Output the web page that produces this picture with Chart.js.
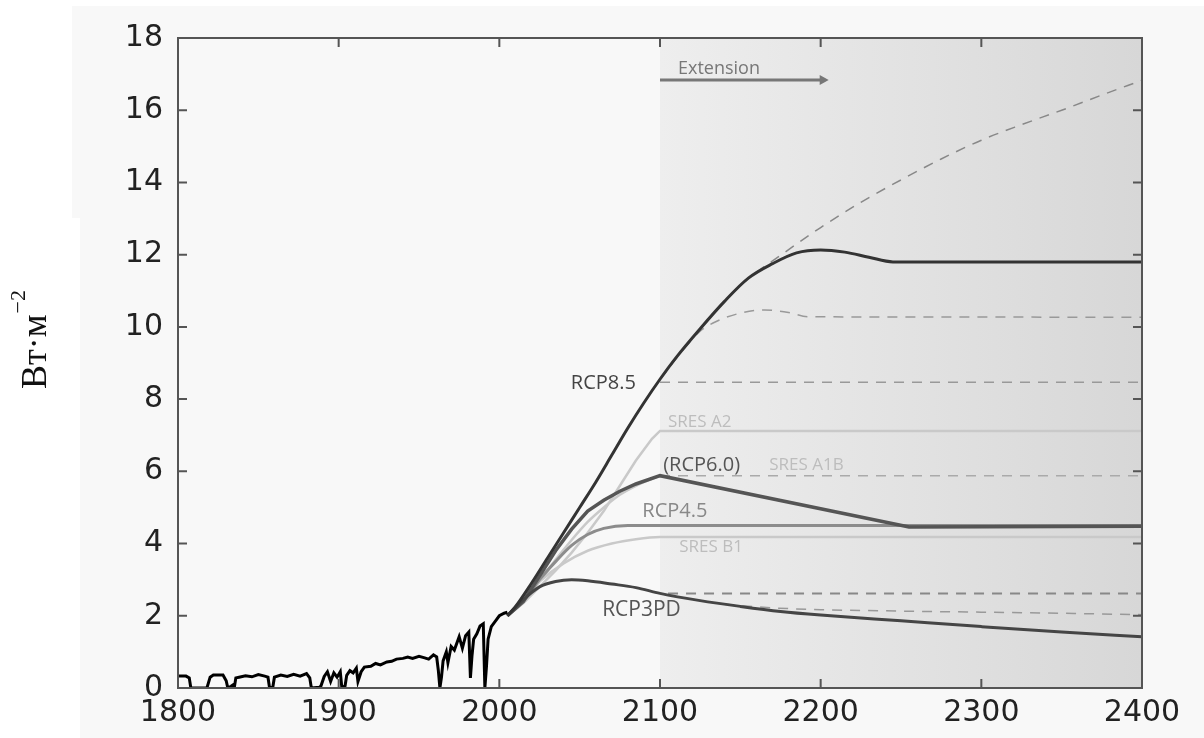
<!DOCTYPE html>
<html>
<head>
<meta charset="utf-8">
<script src="https://cdn.jsdelivr.net/npm/chart.js@4.4.1/dist/chart.umd.min.js"></script>
<style>
    html, body { margin: 0; padding: 0; background: #fff; }
    #wrap { width: 1204px; height: 738px; position: relative; }
</style>
</head>
<body>
<div id="wrap"><canvas id="forcing"></canvas></div>
<script>
// historical forcing, 1800-2005 (W/m2)
const histYears = [1800, 1805, 1807, 1808, 1818, 1820, 1822, 1828, 1830, 1831, 1833, 1834, 1835, 1836, 1838, 1842, 1846, 1850, 1854, 1856,
    1857, 1859, 1860, 1864, 1868, 1872, 1876, 1880, 1882, 1883, 1888, 1889, 1891, 1893, 1895, 1897, 1899, 1901, 1902, 1904,
    1905, 1907, 1909, 1911, 1912, 1914, 1916, 1920, 1923, 1926, 1930, 1933, 1936, 1940, 1943, 1946, 1950, 1953, 1956, 1959,
    1961, 1962, 1963, 1964, 1965, 1967, 1968, 1970, 1972, 1975, 1977, 1979, 1981, 1982, 1983, 1984, 1986, 1988, 1990, 1991,
    1992, 1993, 1995, 1998, 2000, 2003, 2005];
const histValues = [0.33, 0.33, 0.28, 0.0, 0.0, 0.3, 0.36, 0.36, 0.2, 0.0, 0.05, 0.08, 0.0, 0.28, 0.3, 0.34, 0.31, 0.37, 0.33, 0.3,
    0.0, 0.02, 0.3, 0.36, 0.32, 0.38, 0.33, 0.4, 0.28, 0.0, 0.02, 0.06, 0.32, 0.45, 0.18, 0.42, 0.3, 0.45, 0.0, 0.06,
    0.35, 0.48, 0.42, 0.55, 0.18, 0.45, 0.58, 0.6, 0.68, 0.64, 0.72, 0.74, 0.8, 0.82, 0.86, 0.82, 0.88, 0.84, 0.8, 0.92,
    0.86, 0.5, 0.0, 0.3, 0.75, 1.0, 0.7, 1.15, 1.05, 1.42, 1.1, 1.45, 1.55, 0.28, 0.9, 1.35, 1.5, 1.72, 1.78, 0.0,
    0.6, 1.35, 1.7, 1.88, 2.0, 2.07, 2.1];

// RCP scenarios
const rcp85Years = [2005, 2010, 2020, 2030, 2040, 2050, 2060, 2070, 2080, 2090, 2100, 2110, 2125, 2140, 2155, 2170, 2185, 2200, 2215, 2230, 2245, 2400];
const rcp85Values = [2.0, 2.25, 2.9, 3.6, 4.3, 5.0, 5.7, 6.45, 7.2, 7.9, 8.55, 9.15, 9.95, 10.7, 11.35, 11.75, 12.05, 12.13, 12.07, 11.93, 11.8, 11.8];

const rcp60Years = [2005, 2015, 2025, 2035, 2045, 2055, 2065, 2075, 2085, 2100, 2255, 2400];
const rcp60Values = [2.0, 2.4, 3.1, 3.8, 4.4, 4.9, 5.2, 5.45, 5.65, 5.88, 4.46, 4.48];

const rcp45Years = [2005, 2015, 2025, 2035, 2045, 2055, 2065, 2080, 2400];
const rcp45Values = [2.0, 2.4, 3.0, 3.5, 3.95, 4.25, 4.42, 4.5, 4.5];

const rcp3pdYears = [2005, 2015, 2025, 2035, 2045, 2055, 2070, 2085, 2100, 2125, 2150, 2175, 2200, 2250, 2300, 2350, 2400];
const rcp3pdValues = [2.0, 2.45, 2.8, 2.95, 3.0, 2.97, 2.88, 2.78, 2.62, 2.42, 2.26, 2.12, 2.02, 1.86, 1.7, 1.55, 1.42];

// SRES scenarios
const sresA2Years = [2005, 2015, 2025, 2035, 2045, 2055, 2065, 2075, 2085, 2095, 2100, 2400];
const sresA2Values = [2.0, 2.35, 2.8, 3.25, 3.75, 4.3, 4.9, 5.6, 6.3, 6.9, 7.12, 7.12];

const sresA1bYears = [2005, 2015, 2025, 2035, 2045, 2055, 2065, 2075, 2085, 2100];
const sresA1bValues = [2.0, 2.4, 2.95, 3.55, 4.1, 4.6, 5.0, 5.35, 5.6, 5.88];

const sresB1Years = [2005, 2015, 2025, 2040, 2055, 2070, 2085, 2100, 2400];
const sresB1Values = [2.0, 2.5, 2.95, 3.45, 3.8, 4.0, 4.12, 4.18, 4.18];

// dashed extensions
const extHighYears = [2100, 2125, 2150, 2175, 2200, 2225, 2250, 2275, 2300, 2325, 2350, 2375, 2400];
const extHighValues = [8.55, 9.95, 11.15, 11.98, 12.75, 13.45, 14.07, 14.65, 15.17, 15.6, 16.0, 16.42, 16.83];

const extMidYears = [2115, 2125, 2135, 2150, 2165, 2180, 2192, 2400];
const extMidValues = [9.4, 9.88, 10.15, 10.38, 10.47, 10.4, 10.28, 10.27];

const ext85Years = [2100, 2400];
const ext85Values = [8.47, 8.47];

const extA1bYears = [2100, 2400];
const extA1bValues = [5.88, 5.88];

const ext26Years = [2105, 2400];
const ext26Values = [2.62, 2.62];

const extLowYears = [2140, 2170, 2200, 2250, 2300, 2350, 2400];
const extLowValues = [2.32, 2.22, 2.17, 2.13, 2.1, 2.07, 2.03];

const xTicks = [1800, 1900, 2000, 2100, 2200, 2300, 2400];
const yTicks = [0, 2, 4, 6, 8, 10, 12, 14, 16, 18];

const extensionStart = 2100;
const extensionArrowEnd = 2205;

const yTitle = "Вт·м";
const yTitleSup = "−2";

// text labels placed next to the curves
const curveLabels = [
    { text: "RCP8.5", x: 2085, y: 8.45, color: "#444", size: 20, align: "right" },
    { text: "SRES A2", x: 2105, y: 7.37, color: "#bdbdbd", size: 17, align: "left" },
    { text: "(RCP6.0)", x: 2102, y: 6.18, color: "#555", size: 20, align: "left" },
    { text: "SRES A1B", x: 2168, y: 6.18, color: "#bdbdbd", size: 17, align: "left" },
    { text: "RCP4.5", x: 2089, y: 4.88, color: "#888", size: 20, align: "left" },
    { text: "SRES B1", x: 2112, y: 3.9, color: "#bdbdbd", size: 17, align: "left" },
    { text: "RCP3PD", x: 2064, y: 2.16, color: "#555", size: 21, align: "left" },
];

function toPoints(xs, ys) {
    return xs.map(function (x, i) {
        return { x: x, y: ys[i] };
    });
}

function solid(label, xs, ys, color, width, smooth) {
    return {
        label: label,
        data: toPoints(xs, ys),
        borderColor: color,
        borderWidth: width,
        pointRadius: 0,
        fill: false,
        cubicInterpolationMode: smooth ? "monotone" : "default",
        tension: 0,
    };
}

function dashed(label, xs, ys, color, width) {
    var ds = solid(label, xs, ys, color, width, true);
    ds.borderDash = [10, 8];
    return ds;
}

const backdrop = {
    id: "backdrop",
    beforeDraw(chart) {
        const { ctx, chartArea, scales } = chart;
        ctx.save();
        ctx.fillStyle = "#fff";
        ctx.fillRect(0, 0, chart.width, chart.height);
        ctx.fillStyle = "#f8f8f8";
        ctx.fillRect(72, 6, chart.width - 72, chart.height - 6);
        ctx.fillStyle = "#fff";
        ctx.fillRect(72, 218, 8, chart.height - 218);

        // shaded extension period
        const x0 = scales.x.getPixelForValue(extensionStart);
        const g = ctx.createLinearGradient(x0, 0, chartArea.right, 0);
        g.addColorStop(0, "#eeeeee");
        g.addColorStop(1, "#d7d7d7");
        ctx.fillStyle = g;
        ctx.fillRect(x0, chartArea.top, chartArea.right - x0, chartArea.bottom - chartArea.top);
        ctx.restore();
    },
    afterDraw(chart) {
        const { ctx, chartArea, scales } = chart;
        const xs = scales.x;
        const ys = scales.y;
        ctx.save();

        // frame and inward ticks
        ctx.strokeStyle = "#555";
        ctx.lineWidth = 2;
        ctx.strokeRect(chartArea.left, chartArea.top, chartArea.right - chartArea.left, chartArea.bottom - chartArea.top);
        ctx.beginPath();
        xs.ticks.forEach(function (t) {
            const px = xs.getPixelForValue(t.value);
            ctx.moveTo(px, chartArea.bottom);
            ctx.lineTo(px, chartArea.bottom - 9);
            ctx.moveTo(px, chartArea.top);
            ctx.lineTo(px, chartArea.top + 9);
        });
        ys.ticks.forEach(function (t) {
            const py = ys.getPixelForValue(t.value);
            ctx.moveTo(chartArea.left, py);
            ctx.lineTo(chartArea.left + 9, py);
            ctx.moveTo(chartArea.right, py);
            ctx.lineTo(chartArea.right - 9, py);
        });
        ctx.stroke();

        // extension arrow
        const ax0 = xs.getPixelForValue(extensionStart);
        const ax1 = xs.getPixelForValue(extensionArrowEnd);
        const ay = chartArea.top + 42;
        ctx.strokeStyle = "#777";
        ctx.fillStyle = "#777";
        ctx.lineWidth = 3;
        ctx.beginPath();
        ctx.moveTo(ax0, ay);
        ctx.lineTo(ax1 - 6, ay);
        ctx.stroke();
        ctx.beginPath();
        ctx.moveTo(ax1, ay);
        ctx.lineTo(ax1 - 9, ay - 5);
        ctx.lineTo(ax1 - 9, ay + 5);
        ctx.closePath();
        ctx.fill();
        ctx.font = "18px 'Open Sans'";
        ctx.textAlign = "left";
        ctx.textBaseline = "alphabetic";
        ctx.fillText("Extension", ax0 + 18, ay - 6);

        // curve labels
        curveLabels.forEach(function (l) {
            ctx.font = l.size + "px 'Open Sans'";
            ctx.fillStyle = l.color;
            ctx.textAlign = l.align;
            ctx.textBaseline = "middle";
            ctx.fillText(l.text, xs.getPixelForValue(l.x), ys.getPixelForValue(l.y));
        });

        // y axis title, rotated
        ctx.translate(46, 340);
        ctx.rotate(-Math.PI / 2);
        ctx.fillStyle = "#111";
        ctx.textBaseline = "alphabetic";
        ctx.textAlign = "left";
        ctx.font = "36px 'Liberation Serif'";
        const mainW = ctx.measureText(yTitle).width;
        ctx.font = "22px 'Liberation Serif'";
        const supW = ctx.measureText(yTitleSup).width;
        const start = -(mainW + supW) / 2;
        ctx.font = "36px 'Liberation Serif'";
        ctx.fillText(yTitle, start, 0);
        ctx.font = "22px 'Liberation Serif'";
        ctx.fillText(yTitleSup, start + mainW + 1, -21);

        ctx.restore();
    },
};

const datasets = [
    solid("Historical", histYears, histValues, "#000", 3, false),
    solid("RCP8.5", rcp85Years, rcp85Values, "#333", 3, true),
    solid("RCP3PD", rcp3pdYears, rcp3pdValues, "#454545", 3, true),
    solid("RCP6.0", rcp60Years, rcp60Values, "#555", 3.5, false),
    solid("RCP4.5", rcp45Years, rcp45Values, "#8c8c8c", 3, true),
    dashed("ext high", extHighYears, extHighValues, "#888", 1.5),
    dashed("ext mid", extMidYears, extMidValues, "#999", 1.5),
    dashed("ext 8.5", ext85Years, ext85Values, "#999", 1.5),
    dashed("ext A1B", extA1bYears, extA1bValues, "#aaa", 1.5),
    dashed("ext 2.6", ext26Years, ext26Values, "#888", 2),
    dashed("ext low", extLowYears, extLowValues, "#999", 1.5),
    solid("SRES A2", sresA2Years, sresA2Values, "#c9c9c9", 2.5, false),
    solid("SRES A1B", sresA1bYears, sresA1bValues, "#c9c9c9", 2.5, true),
    solid("SRES B1", sresB1Years, sresB1Values, "#c9c9c9", 2.5, true),
];

const tickFont = { family: "'DejaVu Sans'", size: 30 };

const chart = new Chart(document.getElementById("forcing"), {
    type: "line",
    data: { datasets: datasets },
    options: {
        responsive: true,
        maintainAspectRatio: false,
        animation: false,
        layout: { padding: { left: 0, top: 38, right: 62, bottom: 0 } },
        plugins: {
            legend: { display: false },
            tooltip: { enabled: false },
        },
        scales: {
            x: {
                type: "linear",
                min: xTicks[0],
                max: xTicks[xTicks.length - 1],
                afterFit: function (scale) { scale.height = 50; },
                afterBuildTicks: function (scale) {
                    scale.ticks = xTicks.map(function (v) { return { value: v }; });
                },
                grid: { display: false, drawTicks: false },
                border: { display: false },
                ticks: {
                    padding: 7,
                    color: "#222",
                    font: tickFont,
                    maxRotation: 0,
                    autoSkip: false,
                    callback: function (v) { return String(v); },
                },
            },
            y: {
                type: "linear",
                min: yTicks[0],
                max: yTicks[yTicks.length - 1],
                afterFit: function (scale) { scale.width = 178; },
                afterBuildTicks: function (scale) {
                    scale.ticks = yTicks.map(function (v) { return { value: v }; });
                },
                grid: { display: false, drawTicks: false },
                border: { display: false },
                ticks: {
                    padding: 15,
                    color: "#222",
                    font: tickFont,
                    autoSkip: false,
                    callback: function (v) { return String(v); },
                },
            },
        },
    },
    plugins: [backdrop],
});
</script>
</body>
</html>
